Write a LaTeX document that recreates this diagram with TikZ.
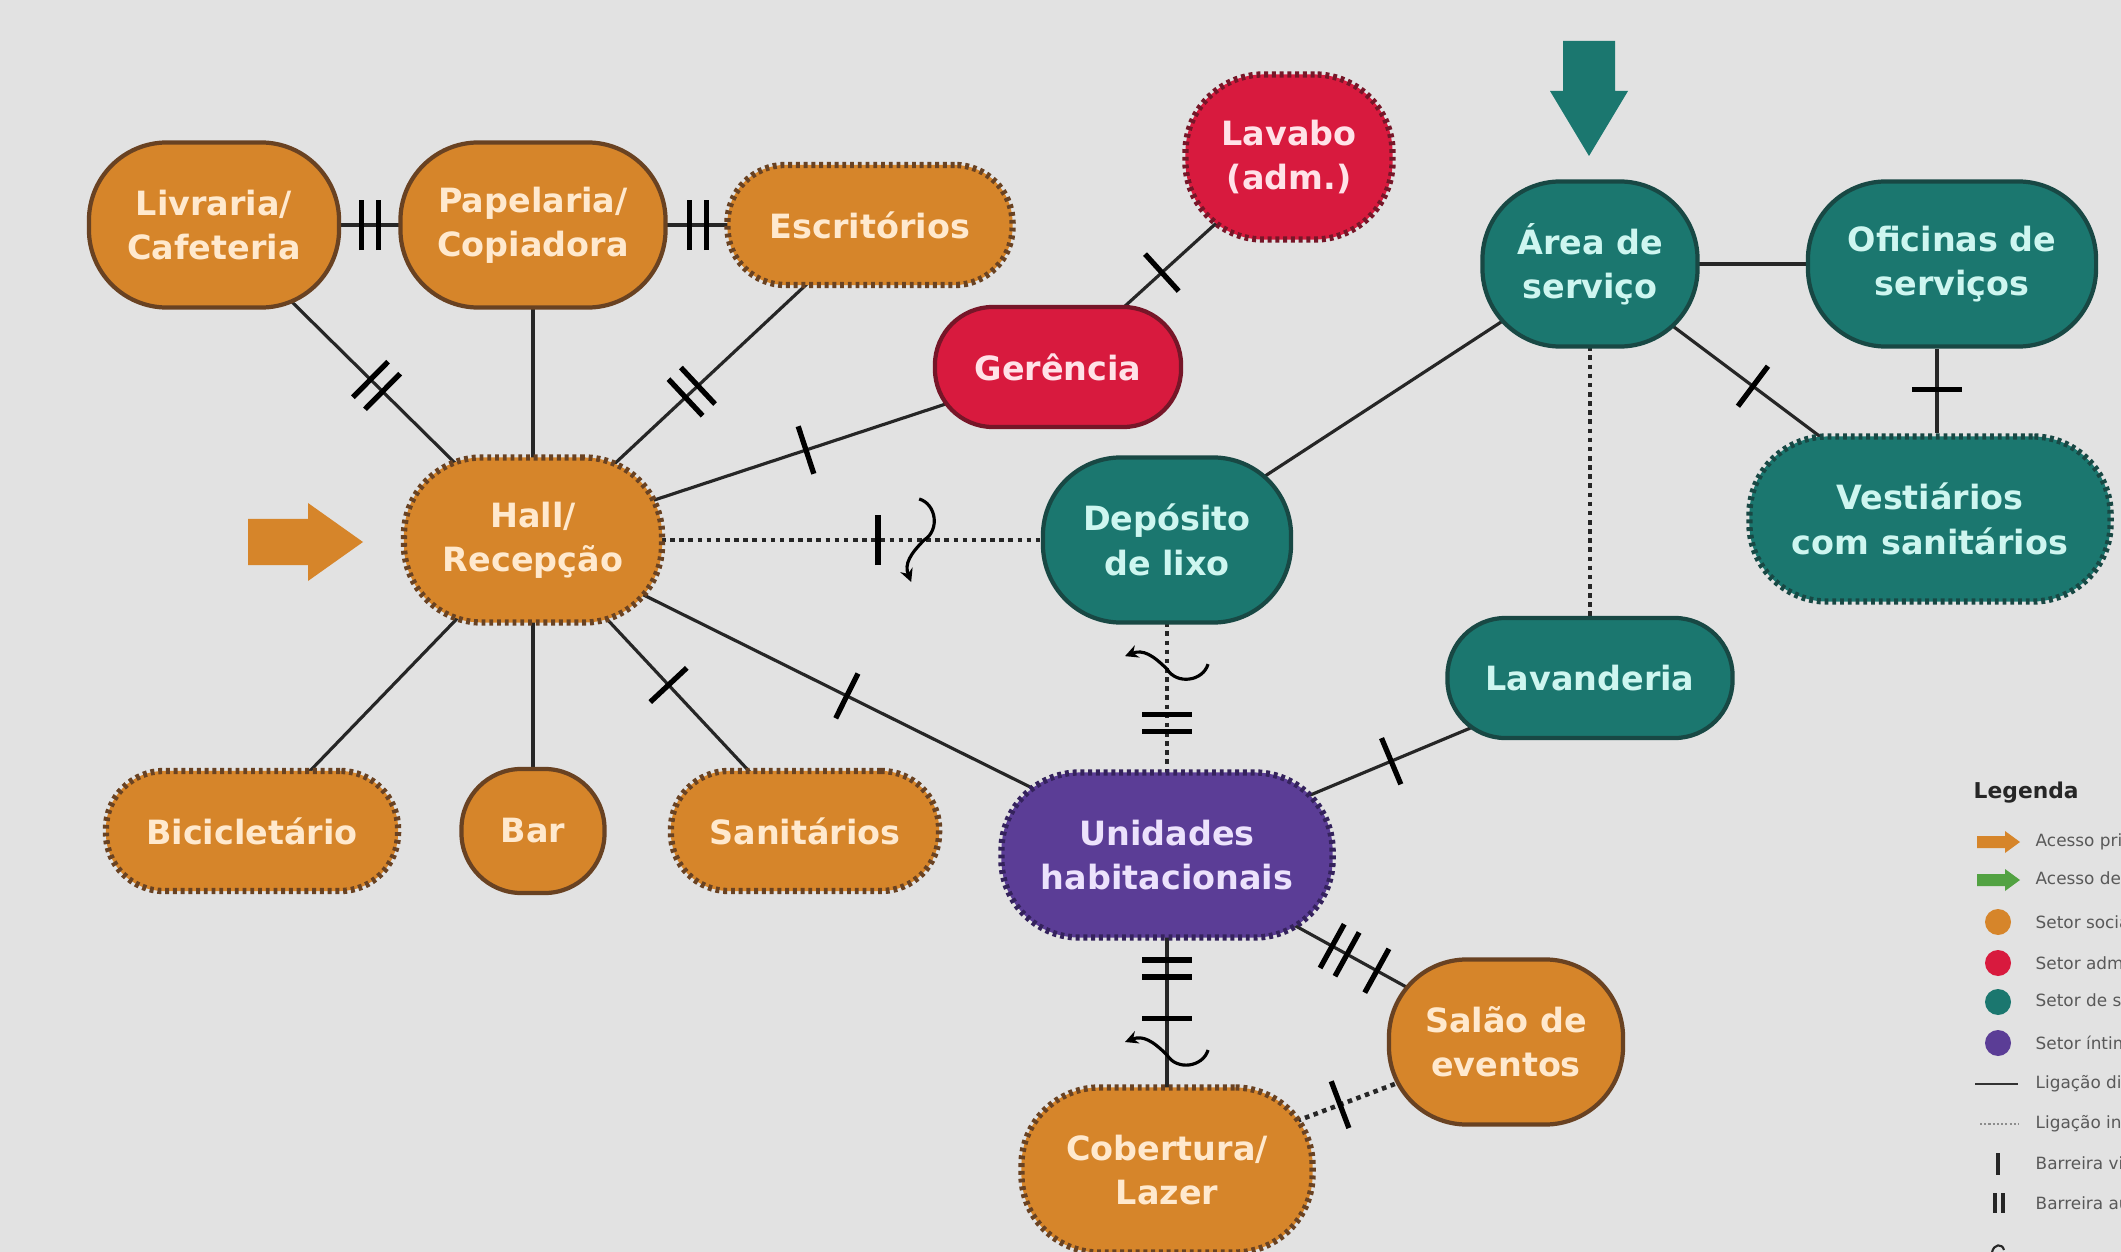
\documentclass[tikz,border=0pt]{standalone}
\usepackage{fontspec}
\setmainfont{DejaVu Sans}
\usetikzlibrary{backgrounds,decorations.markings,arrows.meta}

\definecolor{paper}{RGB}{226,226,226}
\definecolor{socialfill}{RGB}{214,133,42}
\definecolor{socialline}{RGB}{105,66,34}
\definecolor{socialtext}{RGB}{255,233,206}
\definecolor{adminfill}{RGB}{216,26,62}
\definecolor{adminline}{RGB}{118,22,40}
\definecolor{admintext}{RGB}{255,226,232}
\definecolor{servfill}{RGB}{27,119,111}
\definecolor{servline}{RGB}{24,72,68}
\definecolor{servtext}{RGB}{206,246,240}
\definecolor{intfill}{RGB}{91,61,150}
\definecolor{intline}{RGB}{52,34,92}
\definecolor{inttext}{RGB}{236,226,252}
\definecolor{accessgreen}{RGB}{82,162,66}

\tikzset{
  room/.style={rectangle, align=center, inner sep=0pt, line width=1.2pt,
    font=\fontsize{9.5}{12.6}\selectfont\bfseries},
  tall/.style={minimum height=1.65cm, rounded corners=0.78cm},
  short/.style={minimum height=1.2cm, rounded corners=0.58cm},
  dots/.style={line width=1.8pt, dash pattern=on 1.1pt off 1.1pt},
  social/.style={room, fill=socialfill, draw=socialline, text=socialtext},
  admin/.style={room, fill=adminfill, draw=adminline, text=admintext},
  service/.style={room, fill=servfill, draw=servline, text=servtext},
  intimate/.style={room, fill=intfill, draw=intline, text=inttext},
  link/.style={line width=0.9pt, draw=black!85},
  hint/.style={link, line width=1.3pt, dash pattern=on 1.3pt off 1.3pt},
  barline/.style={line width=1.5pt, solid, black},
  visual/.style={postaction={decorate, decoration={markings,
    mark=at position #1 with {\draw[barline] (0,-0.25cm) -- (0,0.25cm);}}}},
  audio/.style={postaction={decorate, decoration={markings,
    mark=at position #1 with {\draw[barline] (-0.085cm,-0.25cm) -- (-0.085cm,0.25cm)
      (0.085cm,-0.25cm) -- (0.085cm,0.25cm);}}}},
  smell/.style={postaction={decorate, decoration={markings,
    mark=at position #1 with {\draw[line width=0.9pt, solid, black,
      -{Stealth[length=0.13cm,width=0.13cm]}]
      (-0.05cm,0.41cm) .. controls (0.12cm,0.36cm) and (0.16cm,0.1cm) .. (0,0)
      .. controls (-0.14cm,-0.14cm) and (-0.2cm,-0.24cm) .. (-0.13cm,-0.42cm);}}}},
  legtext/.style={anchor=west, inner sep=0pt, text=black!65,
    font=\fontsize{4.8}{5}\selectfont},
}

\begin{document}
\begin{tikzpicture}[x=0.01cm, y=-0.01cm]
\useasboundingbox (0,0) rectangle (2121,1252);

\node[social, tall, minimum width=2.5cm] (liv) at (214,225) {Livraria/\\Cafeteria};
\node[social, tall, minimum width=2.65cm] (pap) at (533,225) {Papelaria/\\Copiadora};
\node[social, short, dots, minimum width=2.85cm] (esc) at (870,225) {Escritórios};
\node[admin, tall, dots, minimum width=2.07cm] (lavabo) at (1289,157) {Lavabo\\(adm.)};
\node[admin, short, minimum width=2.46cm] (ger) at (1058,367) {Gerência};
\node[service, tall, minimum width=2.15cm] (area) at (1590,264) {Área de\\serviço};
\node[service, tall, minimum width=2.88cm] (ofi) at (1952,264) {Oficinas de\\serviços};
\node[service, tall, dots, minimum width=3.61cm] (vest) at (1930,519) {Vestiários\\com sanitários};
\node[social, tall, dots, minimum width=2.58cm] (hall) at (533,540) {Hall/\\Recepção};
\node[service, tall, minimum width=2.48cm] (dep) at (1167,540) {Depósito\\de lixo};
\node[service, short, minimum width=2.85cm] (lavand) at (1590,678) {Lavanderia};
\node[social, short, dots, minimum width=2.92cm] (bici) at (252,831) {Bicicletário};
\node[social, minimum width=1.43cm, minimum height=1.24cm, rounded corners=0.6cm] (bar) at (533,831) {Bar};
\node[social, short, dots, minimum width=2.68cm] (sani) at (805,831) {Sanitários};
\node[intimate, tall, dots, minimum width=3.31cm] (unid) at (1167,855) {Unidades\\habitacionais};
\node[social, tall, minimum width=2.34cm] (salao) at (1506,1042) {Salão de\\eventos};
\node[social, tall, dots, minimum width=2.91cm] (cob) at (1167,1170) {Cobertura/\\Lazer};

\fill[socialfill] (248,519) -- (308,519) -- (308,503) -- (363,542) -- (308,581) -- (308,565) -- (248,565) -- cycle;
\fill[servfill] (1563,41) -- (1615,41) -- (1615,91) -- (1628,91) -- (1589,156) -- (1550,91) -- (1563,91) -- cycle;

\node[anchor=west, inner sep=0pt, text=black!85, font=\fontsize{6.2}{7}\selectfont\bfseries] (legtitle) at (1973,793) {Legenda};
\fill[socialfill] (1977,836) -- (2005,836) -- (2005,831) -- (2020,842) -- (2005,853) -- (2005,848) -- (1977,848) -- cycle;
\fill[accessgreen] (1977,874) -- (2005,874) -- (2005,869) -- (2020,880) -- (2005,891) -- (2005,886) -- (1977,886) -- cycle;
\foreach \col/\yy in {socialfill/922, adminfill/963, servfill/1002, intfill/1043}
  \fill[\col] (1998,\yy) circle (13);
\draw[line width=0.6pt, black!80] (1975,1084) -- (2018,1084);
\draw[line width=0.6pt, black!45, dash pattern=on 0.6pt off 0.6pt] (1980,1124) -- (2018,1124);
\draw[line width=1.2pt, black!85] (1998,1153) -- (1998,1175);
\draw[line width=1.2pt, black!85] (1995,1193) -- (1995,1213) (2003,1193) -- (2003,1213);
\draw[line width=0.6pt, black!85] (1992,1252) .. controls (1994,1244) and (2002,1243) .. (2004,1250);
\foreach \txt/\yy [count=\i] in {Acesso principal/842, Acesso de serviço/880, Setor social/922,
    Setor administrativo/963, Setor de serviço/1002, Setor íntimo/1043, Ligação direta/1084,
    Ligação indireta/1124, Barreira visual/1163, Barreira auditiva/1203}
  \node[legtext] (leg\i) at (2035,\yy) {\txt};

\begin{scope}[on background layer]
\fill[paper] (0,0) rectangle (2121,1252);
\draw[link, audio=0.49] (liv.center) -- (pap.center);
\draw[link, audio=0.49] (pap.center) -- (esc.center);
\draw[link, audio=0.51] (liv.center) -- (hall.center);
\draw[link] (pap.center) -- (hall.center);
\draw[link, audio=0.53] (esc.center) -- (hall.center);
\draw[link, visual=0.52] (hall.center) -- (ger.center);
\draw[link, visual=0.45] (ger.center) -- (lavabo.center);
\draw[hint, visual=0.544, smell=0.617] (hall.center) -- (dep.center);
\draw[link] (dep.center) -- (area.center);
\draw[link] (area.center) -- (ofi.center);
\draw[link, visual=0.48] (area.center) -- (vest.center);
\draw[link, visual=0.48] ([xshift=-0.15cm]ofi.south) -- ([xshift=-0.15cm]ofi.south |- vest.north);
\draw[hint] (area.center) -- (lavand.center);
\draw[link, visual=0.495] (hall.center) -- (unid.center);
\draw[link] (hall.center) -- (bici.center);
\draw[link] (hall.center) -- (bar.center);
\draw[link, visual=0.5] (hall.center) -- (sani.center);
\draw[hint, smell=0.41, audio=0.58] (dep.center) -- (unid.center);
\draw[link, visual=0.53] (unid.center) -- (lavand.center);
\draw[link, audio=0.51, visual=0.62] (unid.center) -- (salao.center);
\draw[link, audio=0.36, visual=0.52, smell=0.635] (unid.center) -- (cob.center);
\draw[hint, visual=0.49] (salao.center) -- (cob.center);
\end{scope}
\end{tikzpicture}
\end{document}
